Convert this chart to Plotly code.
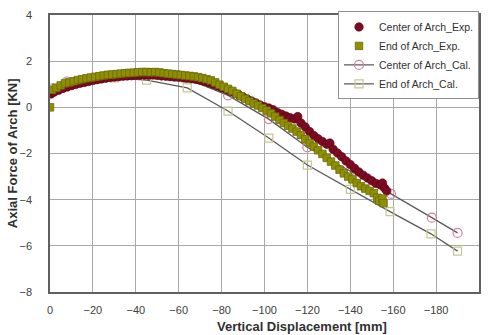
import plotly.graph_objects as go

# ---- data ----
end_exp_x = [0, -1, -3, -5, -7, -9, -11, -13, -15, -17, -19, -21, -23, -25, -27, -29, -31, -33, -35, -37,
             -39, -41, -43, -45, -47, -49, -51, -53, -55, -57, -59, -61, -63, -65, -67, -69, -71, -73, -75,
             -77, -79, -81, -83, -85, -87, -89, -91, -93, -95, -97, -99, -101, -103, -105, -107, -109, -111,
             -113, -115, -117, -119, -121, -123, -125, -127, -129, -131, -133, -135, -137, -139, -141, -143,
             -145, -147, -149, -151, -152.5, -153.5, -155, -155.5]
end_exp_y = [0.0, 0.76, 0.85, 0.95, 1.04, 1.08, 1.13, 1.18, 1.22, 1.26, 1.29, 1.32, 1.35, 1.38, 1.41, 1.42,
             1.44, 1.46, 1.48, 1.49, 1.50, 1.52, 1.53, 1.53, 1.52, 1.53, 1.51, 1.48, 1.46, 1.44, 1.42, 1.40,
             1.38, 1.36, 1.34, 1.31, 1.27, 1.22, 1.17, 1.08, 0.98, 0.89, 0.80, 0.71, 0.59, 0.48, 0.37, 0.27,
             0.17, 0.08, -0.03, -0.14, -0.26, -0.40, -0.55, -0.68, -0.80, -0.92, -1.05, -1.20, -1.38, -1.55,
             -1.70, -1.86, -2.02, -2.19, -2.35, -2.52, -2.70, -2.86, -3.00, -3.12, -3.28, -3.42, -3.52, -3.62,
             -3.72, -3.92, -4.05, -3.95, -4.15]

center_exp_x = [-0.5, -2, -4, -6, -8, -10, -12, -14, -16, -18, -20, -22, -24, -26, -28, -30, -32, -34, -36,
                -38, -40, -42, -44, -46, -48, -50, -52, -54, -56, -58, -60, -62, -64, -66, -68, -70, -72, -74,
                -76, -78, -80, -82, -84, -86, -88, -90, -92, -94, -96, -98, -100, -102, -104, -106, -108, -110,
                -112, -114, -115.5, -117, -119, -121, -123, -125, -127, -129, -130.5, -132, -134, -136, -138,
                -140, -142, -144, -146, -148, -150, -152, -154, -155, -156, -157]
center_exp_y = [0.58, 0.66, 0.74, 0.82, 0.88, 0.94, 0.99, 1.04, 1.08, 1.12, 1.16, 1.20, 1.23, 1.26, 1.29,
                1.31, 1.33, 1.35, 1.36, 1.37, 1.39, 1.40, 1.40, 1.39, 1.40, 1.38, 1.36, 1.35, 1.33, 1.31, 1.30,
                1.28, 1.26, 1.24, 1.21, 1.17, 1.12, 1.06, 1.00, 0.93, 0.85, 0.78, 0.70, 0.62, 0.54, 0.45, 0.36,
                0.27, 0.19, 0.10, 0.02, -0.03, -0.10, -0.22, -0.30, -0.38, -0.45, -0.50, -0.40, -0.68, -0.85,
                -1.05, -1.22, -1.36, -1.48, -1.60, -1.55, -1.82, -1.98, -2.14, -2.32, -2.48, -2.64, -2.80, -2.94,
                -3.06, -3.18, -3.30, -3.36, -3.28, -3.50, -3.62]

center_cal_x = [-1, -8, -20, -30, -43, -63, -83, -102, -120, -140, -159, -178, -190]
center_cal_y = [0.82, 1.12, 1.28, 1.35, 1.38, 1.28, 0.52, -0.51, -1.73, -2.75, -3.75, -4.78, -5.44]

end_cal_x = [-1, -8, -20, -30, -45, -64, -83, -102, -120, -140, -158.5, -177.6, -190]
end_cal_y = [0.80, 1.08, 1.22, 1.28, 1.18, 0.84, -0.16, -1.33, -2.50, -3.55, -4.52, -5.48, -6.23]

x_ticks = [0, -20, -40, -60, -80, -100, -120, -140, -160, -180, -200]
y_ticks = [4, 2, 0, -2, -4, -6, -8]

FONT = "Liberation Sans, Arial, sans-serif"

fig = go.Figure()

fig.add_trace(go.Scatter(
    x=center_cal_x, y=center_cal_y, mode="lines+markers", name="Center of Arch_Cal.",
    legendrank=3,
    line=dict(color="#5a5a5a", width=1.3),
    marker=dict(symbol="circle-open", size=9, color="#d4809a", line=dict(width=1.2, color="#d4809a")),
))
fig.add_trace(go.Scatter(
    x=end_cal_x, y=end_cal_y, mode="lines+markers", name="End of Arch_Cal.",
    legendrank=4,
    line=dict(color="#5a5a5a", width=1.3),
    marker=dict(symbol="square-open", size=8, color="#c8c890", line=dict(width=1.2, color="#c8c890")),
))
fig.add_trace(go.Scatter(
    x=center_exp_x, y=center_exp_y, mode="markers", name="Center of Arch_Exp.",
    legendrank=1,
    marker=dict(symbol="circle", size=8.5, color="#7c0a20", line=dict(width=0.6, color="#5a0010")),
))
fig.add_trace(go.Scatter(
    x=end_exp_x, y=end_exp_y, mode="markers", name="End of Arch_Exp.",
    legendrank=2,
    marker=dict(symbol="square", size=7.5, color="#8f8f00", line=dict(width=0.8, color="#6a6a10")),
))

axis_common = dict(
    showgrid=True, gridcolor="#a8a8a8", gridwidth=1,
    showline=True, linecolor="#606060", linewidth=1.5, mirror=True,
    zeroline=False, ticks="",
    tickfont=dict(family=FONT, size=11, color="#404040"),
)

fig.update_layout(
    width=491, height=335,
    margin=dict(l=50, r=12, t=9, b=43),
    paper_bgcolor="white", plot_bgcolor="white",
    font=dict(family=FONT, size=11, color="#303030"),
    xaxis=dict(range=[0, -200], tickvals=x_ticks, ticklabelstandoff=7, **axis_common),
    yaxis=dict(range=[-8, 4], tickvals=y_ticks, ticklabelstandoff=14, **axis_common),
    legend=dict(
        x=1, y=1.013, xanchor="right", yanchor="top",
        bgcolor="white", bordercolor="#909090", borderwidth=1,
        font=dict(family=FONT, size=10.5, color="#303030"),
        tracegroupgap=0, itemwidth=30,
    ),
    showlegend=True,
    annotations=[
        dict(text="<b>Vertical Displacement [mm]</b>", xref="paper", yref="paper",
             x=0.587, y=-0.124, xanchor="center", yanchor="middle", showarrow=False,
             font=dict(family=FONT, size=13, color="#303030")),
        dict(text="<b>Axial Force of Arch [KN]</b>", xref="paper", yref="paper",
             x=-0.087, y=0.5, xanchor="center", yanchor="middle", textangle=-90, showarrow=False,
             font=dict(family=FONT, size=13, color="#303030")),
    ],
)

fig.write_html("out.html")
